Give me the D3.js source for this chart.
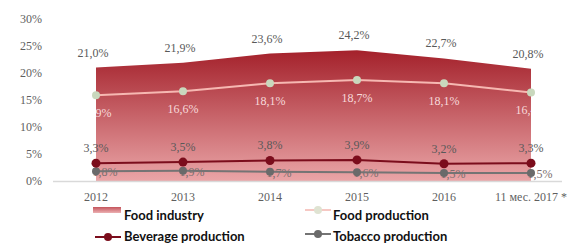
<!DOCTYPE html>
<html lang="en">
<head>
<meta charset="UTF-8">
<title>Food industry shares</title>
<script src="https://cdn.jsdelivr.net/npm/d3@7"></script>
<style>
    body { margin: 0; background: #fff; }
    .tick-label { font-family: "Liberation Serif", "Times New Roman", serif; font-size: 12px; fill: #5f5f5f; }
    .val { font-family: "Liberation Serif", "Times New Roman", serif; font-size: 12px; }
    .legend text { font-family: Lato, sans-serif; font-weight: 700; font-size: 13px; fill: #111; }
</style>
</head>
<body>
<script type="text/javascript">
    // data
    var years = ["2012", "2013", "2014", "2015", "2016", "11 мес. 2017 *"];
    var foodIndustry = [21.0, 21.9, 23.6, 24.2, 22.7, 20.8];
    var foodProduction = [15.9, 16.6, 18.1, 18.7, 18.1, 16.4];
    var beverage = [3.3, 3.5, 3.8, 3.9, 3.2, 3.3];
    var tobacco = [1.8, 1.9, 1.7, 1.6, 1.5, 1.5];
    var yTicks = [0, 5, 10, 15, 20, 25, 30];

    var width = 569, height = 244;

    var svg = d3.select("body").append("svg")
        .attr("width", width)
        .attr("height", height);

    var x = d3.scalePoint().domain(years).range([96, 531]);
    var y = d3.scaleLinear().domain([0, 30]).range([181, 19]);

    var fmt = function(v){ return v.toFixed(1).replace(".", ",") + "%"; };

    // gradient for the area
    var defs = svg.append("defs");
    var grad = defs.append("linearGradient")
        .attr("id", "areaGrad")
        .attr("x1", 0).attr("y1", 0).attr("x2", 0).attr("y2", 1);
    grad.append("stop").attr("offset", "0%").attr("stop-color", "#a4212b");
    grad.append("stop").attr("offset", "100%").attr("stop-color", "#eaa5a7");

    var lgrad = defs.append("linearGradient")
        .attr("id", "legGrad")
        .attr("x1", 0).attr("y1", 0).attr("x2", 0).attr("y2", 1);
    lgrad.append("stop").attr("offset", "0%").attr("stop-color", "#c4545c");
    lgrad.append("stop").attr("offset", "100%").attr("stop-color", "#ecb0b2");

    // y axis labels
    svg.append("g")
        .selectAll("text")
        .data(yTicks)
        .enter()
        .append("text")
        .attr("class", "tick-label")
        .attr("x", 42)
        .attr("y", function(d){ return y(d) + 4; })
        .attr("text-anchor", "end")
        .text(function(d){ return d + "%"; });

    // food industry area
    var area = d3.area()
        .x(function(d, i){ return x(years[i]); })
        .y0(y(0))
        .y1(function(d){ return y(d); });

    svg.append("path")
        .datum(foodIndustry)
        .attr("d", area)
        .attr("fill", "url(#areaGrad)");

    // clip: the light labels only show on top of the area
    defs.append("clipPath")
        .attr("id", "areaClip")
        .append("path")
        .datum(foodIndustry)
        .attr("d", area);

    // baseline
    svg.append("line")
        .attr("x1", 53).attr("x2", 562)
        .attr("y1", y(0) + 0.5).attr("y2", y(0) + 0.5)
        .attr("stroke", "#d9d9d9")
        .attr("stroke-width", 1.5);

    // x axis labels
    var last = years.length - 1;
    svg.append("g")
        .selectAll("text")
        .data(years)
        .enter()
        .append("text")
        .attr("class", "tick-label")
        .attr("x", function(d, i){ return i == last ? 567 : x(d); })
        .attr("y", 201)
        .attr("text-anchor", function(d, i){ return i == last ? "end" : "middle"; })
        .text(function(d){ return d; });

    // food industry labels
    svg.append("g")
        .selectAll("text")
        .data(foodIndustry)
        .enter()
        .append("text")
        .attr("class", "val")
        .attr("fill", "#595959")
        .attr("x", function(d, i){ return x(years[i]) - 3; })
        .attr("y", function(d){ return y(d) - 11; })
        .attr("text-anchor", "middle")
        .text(fmt);

    // food production labels (light, cut off outside the area)
    svg.append("g")
        .attr("clip-path", "url(#areaClip)")
        .selectAll("text")
        .data(foodProduction)
        .enter()
        .append("text")
        .attr("class", "val")
        .attr("fill", "#f7dada")
        .attr("x", function(d, i){ return x(years[i]); })
        .attr("y", function(d){ return y(d) + 22; })
        .attr("text-anchor", "middle")
        .text(fmt);

    // tobacco labels (sit under the lines)
    svg.append("g")
        .selectAll("text")
        .data(tobacco)
        .enter()
        .append("text")
        .attr("class", "val")
        .attr("fill", "#7a6e6e")
        .attr("x", function(d, i){ return x(years[i]) + 9; })
        .attr("y", function(d){ return y(d) + 5; })
        .attr("text-anchor", "middle")
        .text(fmt);

    // beverage labels
    svg.append("g")
        .selectAll("text")
        .data(beverage)
        .enter()
        .append("text")
        .attr("class", "val")
        .attr("fill", "#595959")
        .attr("x", function(d, i){ return x(years[i]); })
        .attr("y", function(d){ return y(d) - 11; })
        .attr("text-anchor", "middle")
        .text(fmt);

    function drawSeries(vals, lineColor, dotColor, r){
        var line = d3.line()
            .x(function(d, i){ return x(years[i]); })
            .y(function(d){ return y(d); });
        svg.append("path")
            .datum(vals)
            .attr("d", line)
            .attr("fill", "none")
            .attr("stroke", lineColor)
            .attr("stroke-width", 2);
        svg.append("g")
            .selectAll("circle")
            .data(vals)
            .enter()
            .append("circle")
            .attr("cx", function(d, i){ return x(years[i]); })
            .attr("cy", function(d){ return y(d); })
            .attr("r", r)
            .attr("fill", dotColor);
    }

    drawSeries(tobacco, "#747474", "#6a6a6a", 4);
    drawSeries(foodProduction, "#f6b8b2", "#c9d8bd", 4);
    drawSeries(beverage, "#7b0d1c", "#7b0d1c", 4.5);

    // legend
    var legend = svg.append("g").attr("class", "legend");

    legend.append("rect")
        .attr("x", 93).attr("y", 207)
        .attr("width", 28).attr("height", 6)
        .attr("fill", "url(#legGrad)");
    legend.append("text").attr("x", 124).attr("y", 220).text("Food industry");

    legend.append("line")
        .attr("x1", 95).attr("x2", 121).attr("y1", 237).attr("y2", 237)
        .attr("stroke", "#7b0d1c").attr("stroke-width", 2);
    legend.append("circle").attr("cx", 108).attr("cy", 237).attr("r", 4).attr("fill", "#7b0d1c");
    legend.append("text").attr("x", 124).attr("y", 241).text("Beverage production");

    legend.append("line")
        .attr("x1", 305).attr("x2", 331).attr("y1", 210).attr("y2", 210)
        .attr("stroke", "#f6c8c3").attr("stroke-width", 2);
    legend.append("circle").attr("cx", 318).attr("cy", 210).attr("r", 4).attr("fill", "#dfe3d2");
    legend.append("text").attr("x", 333).attr("y", 220).text("Food production");

    legend.append("line")
        .attr("x1", 305).attr("x2", 331).attr("y1", 234).attr("y2", 234)
        .attr("stroke", "#747474").attr("stroke-width", 2);
    legend.append("circle").attr("cx", 318).attr("cy", 234).attr("r", 4).attr("fill", "#6a6a6a");
    legend.append("text").attr("x", 333).attr("y", 241).text("Tobacco production");
</script>
</body>
</html>
